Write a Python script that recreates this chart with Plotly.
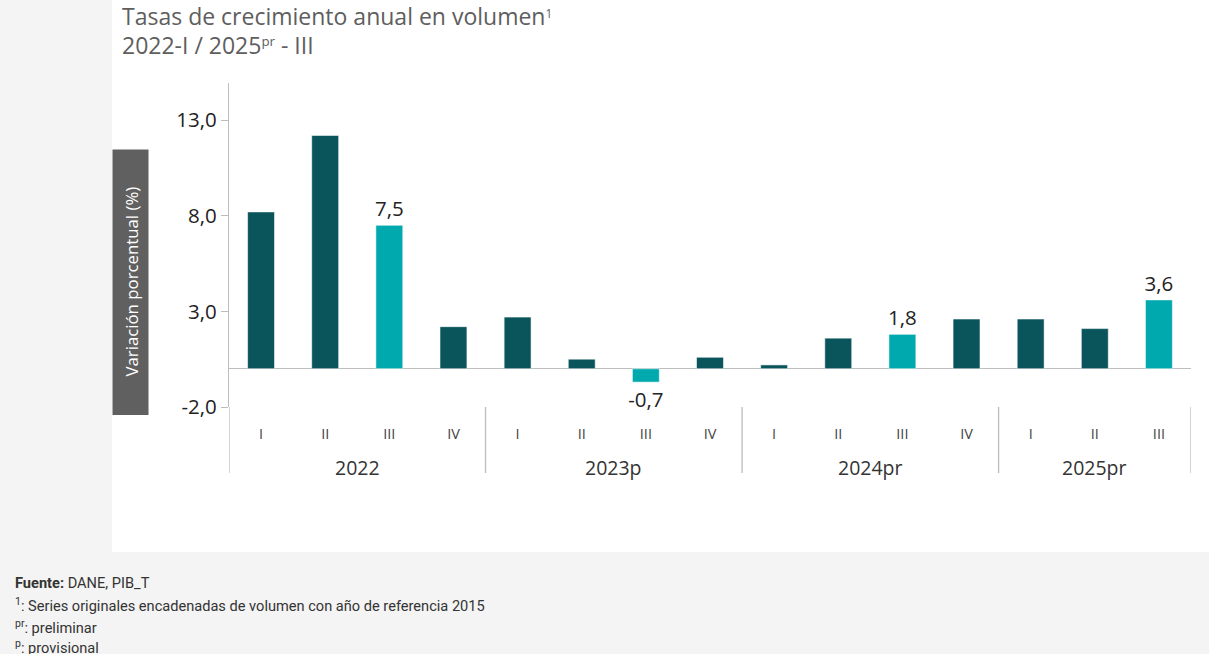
import plotly.graph_objects as go

# ---------------- data ----------------
years = ["2022", "2023p", "2024pr", "2025pr"]
quarters = ["I", "II", "III", "IV", "I", "II", "III", "IV",
            "I", "II", "III", "IV", "I", "II", "III"]
year_of_bar = ["2022"] * 4 + ["2023p"] * 4 + ["2024pr"] * 4 + ["2025pr"] * 3
values = [8.2, 12.2, 7.5, 2.2, 2.7, 0.5, -0.7, 0.6,
          0.2, 1.6, 1.8, 2.6, 2.6, 2.1, 3.6]
y_tickvals = [-2.0, 3.0, 8.0, 13.0]
y_ticktext = ["-2,0", "3,0", "8,0", "13,0"]

# ---------------- styling ----------------
W, H = 1209, 654
L, R, T, B = 229, 18, 83, 247
PW, PH = W - L - R, H - T - B
DARK = "#0a545c"
LIGHT = "#00a9ad"
GRID = "#bdbdbd"

def px_x(px):
    return (px - L) / PW

def px_y(py):
    return (H - B - py) / PH

xpos = list(range(len(values)))
colors = [LIGHT if q == "III" else DARK for q in quarters]
labels = [f"{v:.1f}".replace(".", ",") if q == "III" else "" for v, q in zip(values, quarters)]

fig = go.Figure()
fig.add_trace(go.Bar(
    x=xpos, y=values, width=0.42,
    marker=dict(color=colors, line=dict(color="rgba(255,255,255,0.55)", width=1)),
    text=labels, textposition="outside", cliponaxis=False, constraintext="none",
    textfont=dict(family="Open Sans", size=20.5, color="#222222"),
    hoverinfo="skip",
))

shapes = []
# white panel
shapes.append(dict(type="rect", xref="paper", yref="paper", layer="below",
                   x0=px_x(112), x1=px_x(1212), y0=px_y(552), y1=px_y(-3),
                   fillcolor="white", line=dict(width=0)))
# y-axis title box
shapes.append(dict(type="rect", xref="paper", yref="paper", layer="above",
                   x0=px_x(112.5), x1=px_x(148.5), y0=px_y(415), y1=px_y(149.5),
                   fillcolor="#606060", line=dict(width=0)))
# year separators
group_edges = [-0.5, 3.5, 7.5, 11.5, 14.5]
for xe in group_edges:
    shapes.append(dict(type="line", xref="x", yref="paper",
                       x0=xe, x1=xe, y0=px_y(473), y1=0,
                       line=dict(color=GRID, width=1.3)))

annotations = []
# year labels
group_sizes = [4, 4, 4, 3]
start = 0
for yr, n in zip(years, group_sizes):
    annotations.append(dict(x=start + (n - 1) / 2, y=px_y(467), xref="x", yref="paper",
                            text=yr, showarrow=False, xanchor="center", yanchor="middle",
                            font=dict(family="Open Sans", size=19.5, color="#333333")))
    start += n
# y title
annotations.append(dict(x=px_x(130.5), y=px_y(282), xref="paper", yref="paper",
                        text="Variación porcentual (%)", textangle=-90, showarrow=False,
                        xanchor="center", yanchor="middle",
                        font=dict(family="Open Sans", size=16.8, color="white")))
# title
annotations.append(dict(x=px_x(120), y=px_y(16), xref="paper", yref="paper",
                        text="Tasas de crecimiento anual en volumen<span style='font-size:17px'><sup>1</sup></span>",
                        showarrow=False, xanchor="left", yanchor="middle",
                        font=dict(family="Open Sans", size=23, color="#5e5e5e")))
annotations.append(dict(x=px_x(120), y=px_y(45), xref="paper", yref="paper",
                        text="2022-I / 2025<span style='font-size:19px'><sup>pr</sup></span> - III",
                        showarrow=False, xanchor="left", yanchor="middle",
                        font=dict(family="Open Sans", size=23, color="#5e5e5e")))
# footnotes
foot = [
    ("<b>Fuente:</b> DANE, PIB_T", 583),
    ("<span style='font-size:15px'><sup>1</sup></span>: Series originales encadenadas de volumen con año de referencia 2015", 605),
    ("<span style='font-size:15px'><sup>pr</sup></span>: preliminar", 627),
    ("<span style='font-size:15px'><sup>p</sup></span>: provisional", 647),
]
for txt, yy in foot:
    annotations.append(dict(x=px_x(13), y=px_y(yy), xref="paper", yref="paper",
                            text=txt, showarrow=False, xanchor="left", yanchor="middle",
                            font=dict(family="Roboto", size=14.6, color="#333333")))

fig.update_layout(
    width=W, height=H,
    margin=dict(l=L, r=R, t=T, b=B, pad=0),
    paper_bgcolor="#f4f4f4", plot_bgcolor="white",
    showlegend=False, bargap=0.58,
    shapes=shapes, annotations=annotations,
    xaxis=dict(range=[-0.5, 14.5], tickmode="array", tickvals=xpos, ticktext=quarters,
               showgrid=False, zeroline=False, showline=False,
               ticks="outside", ticklen=14, tickcolor="rgba(0,0,0,0)",
               tickfont=dict(family="Open Sans", size=14.5, color="#444444"), fixedrange=True),
    yaxis=dict(range=[-2.0, 14.94], tickmode="array", tickvals=y_tickvals, ticktext=y_ticktext,
               showgrid=False, zeroline=True, zerolinecolor=GRID, zerolinewidth=1.3,
               showline=True, linecolor=GRID, linewidth=1.3,
               ticks="outside", ticklen=7, tickcolor=GRID, tickwidth=1,
               tickfont=dict(family="Open Sans", size=20.5, color="#222222"), fixedrange=True),
)

fig.write_html("out.html", config={"displayModeBar": False},
               post_script="document.body.style.margin='0px';document.body.style.overflow='hidden';")
